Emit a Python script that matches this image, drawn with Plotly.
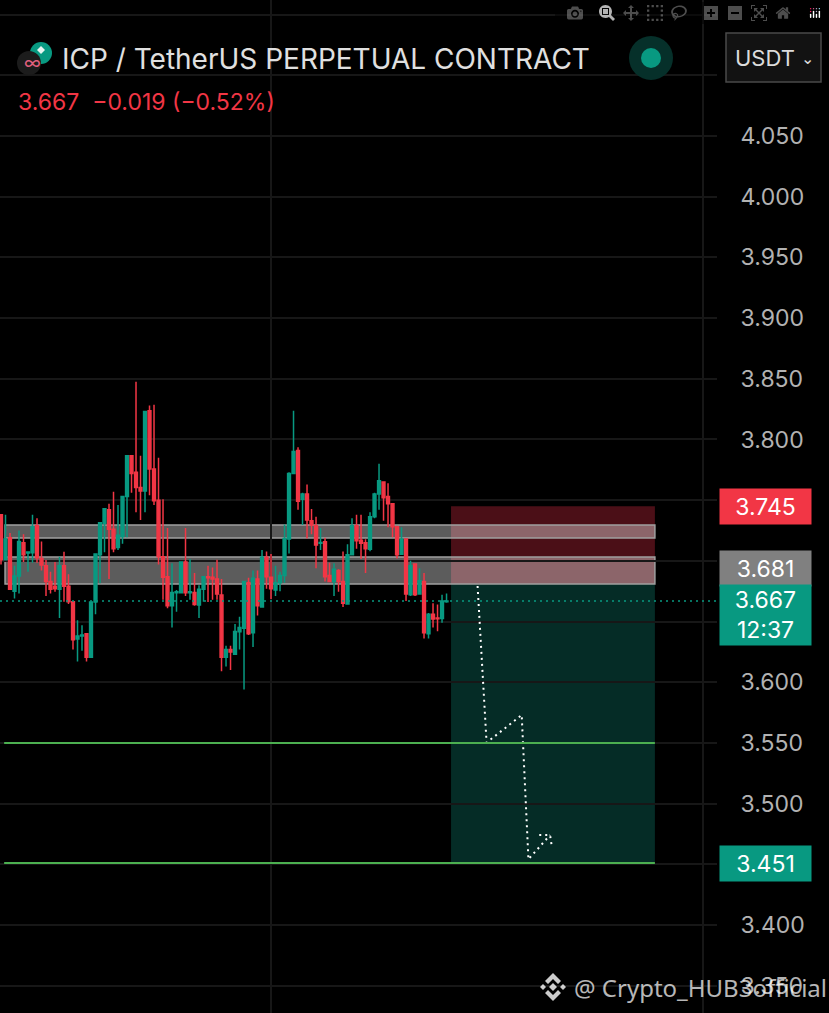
import plotly.graph_objects as go

# one entry per candle
opens = [3.738,3.701,3.719,3.675,3.6875,3.715,3.7064,3.7067,3.729,3.702,3.696,3.683,3.679,3.6765,3.696,3.679,3.6664,3.6356,3.638,3.64,
         3.6205,3.666,3.705,3.731,3.742,3.726,3.711,3.72,3.753,3.7866,3.773,3.7605,3.7575,3.8237,3.7756,3.75,3.7034,3.687,3.663,3.6738,
         3.6738,3.699,3.6738,3.674,3.6636,3.6765,3.687,3.6864,3.685,3.6718,3.6205,3.627,3.623,3.6415,3.6444,3.682,3.6408,3.685,3.662,3.703,
         3.6864,3.676,3.682,3.688,3.718,3.772,3.791,3.7507,3.755,3.733,3.729,3.7144,3.7158,3.688,3.683,3.692,3.683,3.6645,3.705,3.729,
         3.717,3.715,3.7095,3.7364,3.755,3.765,3.753,3.747,3.728,3.7054,3.718,3.672,3.6974,3.6727,3.683,3.64,3.656,3.653,3.6526,3.6664]
highs = [3.738,3.738,3.723,3.696,3.725,3.722,3.7073,3.738,3.735,3.716,3.7007,3.691,3.699,3.7034,3.7075,3.689,3.6664,3.651,3.647,3.64,
         3.63,3.6685,3.712,3.736,3.747,3.757,3.746,3.752,3.7666,3.7866,3.8476,3.7866,3.783,3.828,3.8286,3.785,3.7507,3.727,3.698,3.676,
         3.695,3.727,3.7015,3.69,3.68,3.6815,3.696,3.6946,3.701,3.685,3.6718,3.63,3.63,3.648,3.654,3.683,3.686,3.692,3.692,3.709,
         3.7076,3.7056,3.696,3.691,3.73,3.773,3.8237,3.7935,3.756,3.763,3.7427,3.7364,3.727,3.719,3.6985,3.698,3.693,3.7076,3.7136,3.735,
         3.738,3.738,3.7177,3.74,3.756,3.78,3.765,3.764,3.747,3.729,3.7276,3.7185,3.70,3.698,3.694,3.69,3.657,3.665,3.664,3.672,3.673]
lows = [3.697,3.701,3.676,3.669,3.673,3.699,3.691,3.6985,3.6985,3.692,3.671,3.673,3.6746,3.653,3.6664,3.6644,3.627,3.617,3.626,3.617,
        3.6205,3.656,3.6815,3.707,3.685,3.707,3.709,3.714,3.7194,3.756,3.74,3.7336,3.74,3.754,3.746,3.697,3.668,3.661,3.645,3.658,
        3.673,3.671,3.668,3.663,3.653,3.6664,3.666,3.668,3.668,3.609,3.613,3.61,3.623,3.627,3.594,3.639,3.629,3.655,3.662,3.677,
        3.6686,3.671,3.675,3.682,3.706,3.7715,3.742,3.7295,3.7185,3.722,3.694,3.709,3.683,3.683,3.671,3.6746,3.662,3.6645,3.705,3.71,
        3.7015,3.69,3.708,3.735,3.742,3.733,3.7276,3.7194,3.702,3.705,3.667,3.671,3.671,3.6727,3.636,3.636,3.645,3.642,3.649,3.6655]
closes = [3.701,3.718,3.6765,3.6875,3.716,3.705,3.7073,3.728,3.7026,3.6966,3.683,3.6765,3.677,3.696,3.679,3.6664,3.635,3.638,3.639,3.6205,
          3.666,3.7056,3.7314,3.743,3.726,3.71,3.721,3.753,3.7866,3.772,3.7605,3.7575,3.823,3.7756,3.7496,3.7034,3.6864,3.663,3.674,3.6746,
          3.699,3.6738,3.6746,3.664,3.6765,3.687,3.686,3.685,3.6727,3.6205,3.627,3.625,3.6417,3.645,3.683,3.64,3.6856,3.663,3.703,3.687,
          3.677,3.682,3.688,3.7185,3.772,3.79,3.749,3.755,3.7336,3.7295,3.713,3.7152,3.687,3.683,3.693,3.683,3.665,3.705,3.729,3.7166,
          3.7144,3.71,3.7364,3.755,3.766,3.752,3.747,3.728,3.705,3.7177,3.6727,3.696,3.672,3.6837,3.6408,3.656,3.652,3.6524,3.667,3.667]
# the highs list carries one extra entry from reading, keep it in step with opens
highs = highs[:50] + highs[51:]
candle_x = list(range(len(opens)))

price_ticks = [3.35,3.4,3.45,3.5,3.55,3.6,3.65,3.7,3.75,3.8,3.85,3.9,3.95,4.0,4.05,4.1,4.15]
price_labels = ["3.350","3.400","","3.500","3.550","3.600","","","","3.800","3.850","3.900","3.950","4.000","4.050","",""]
time_grid = [60,156]

stop_price = 3.745
entry_price = 3.681
last_price = 3.667
target_price = 3.451
target_one = 3.55
zone_upper = [3.7188,3.7295]
zone_lower = [3.681,3.7032]
box_x = [100,145.3]

arrow_x = [105.9,107.9,115.7,117.2,122]
arrow_y = [3.6793,3.5502,3.573,3.4541,3.4741]
head_x = [119.6,122,122.4]
head_y = [3.4741,3.4741,3.4645]

UP = "#089981"
DOWN = "#f23645"
GRID = "#171717"
W = 829
H = 1013
PLOT_W = 717


def px(p):
    return p/PLOT_W


def py(p):
    return 1-p/H


def circle(cx, cy, r, fill):
    return dict(type="circle", xref="paper", yref="paper", x0=px(cx-r), x1=px(cx+r), y0=py(cy+r), y1=py(cy-r),
                fillcolor=fill, line_width=0, layer="above")


def poly(points, fill):
    path = "M " + " L ".join(f"{px(a)},{py(b)}" for a, b in points) + " Z"
    return dict(type="path", xref="paper", yref="paper", path=path, fillcolor=fill, line_width=0, layer="above")


def diamond(cx, cy, r, fill):
    return poly([(cx-r,cy),(cx,cy-r),(cx+r,cy),(cx,cy+r)], fill)


fig = go.Figure()
fig.add_trace(go.Candlestick(x=candle_x, open=opens, high=highs, low=lows, close=closes,
                             increasing_line_color=UP, increasing_fillcolor=UP,
                             decreasing_line_color=DOWN, decreasing_fillcolor=DOWN,
                             line_width=1.5, whiskerwidth=0, showlegend=False))
fig.add_trace(go.Scatter(x=arrow_x, y=arrow_y, mode="lines", line=dict(color="white", width=2, dash="2px,4px"),
                         showlegend=False))
fig.add_trace(go.Scatter(x=head_x, y=head_y, mode="lines", line=dict(color="white", width=2, dash="2px,4px"),
                         showlegend=False))

shapes = [
    dict(type="rect", x0=box_x[0], x1=box_x[1], y0=entry_price, y1=stop_price, fillcolor="#4b0f17",
         line_width=0, layer="below"),
    dict(type="rect", x0=box_x[0], x1=box_x[1], y0=target_price, y1=entry_price, fillcolor="#052c26",
         line_width=0, layer="below"),
    dict(type="rect", x0=0.9, x1=box_x[1], y0=zone_upper[0], y1=zone_upper[1], fillcolor="rgba(255,255,255,0.36)",
         line=dict(color="#a0a0a0", width=1.5), layer="below"),
    dict(type="rect", x0=0.9, x1=box_x[1], y0=zone_lower[0], y1=zone_lower[1], fillcolor="rgba(255,255,255,0.36)",
         line=dict(color="#a0a0a0", width=1.5), layer="below"),
    dict(type="line", x0=0.7, x1=box_x[1], y0=target_one, y1=target_one, line=dict(color="#4caf50", width=2)),
    dict(type="line", x0=0.7, x1=box_x[1], y0=target_price, y1=target_price, line=dict(color="#4caf50", width=2)),
    dict(type="line", xref="paper", x0=0, x1=1, y0=last_price, y1=last_price,
         line=dict(color=UP, width=1.5, dash="2px,4px")),
    # header icons
    circle(41, 53, 11, "#089981"),
    circle(29, 63, 12, "#1c1c1c"),
    diamond(41, 50, 4, "#e8f5f2"),
    circle(651, 58, 22, "#06302a"),
    circle(651, 58, 10, "#089981"),
    # USDT button
    dict(type="rect", xref="paper", yref="paper", x0=px(726), x1=px(821), y0=py(82), y1=py(33),
         fillcolor="#121212", line=dict(color="#4a4a4a", width=1.5), layer="above"),
    # watermark logo
    diamond(553, 987, 4, "rgba(255,255,255,0.8)"),
    diamond(543, 987, 3, "rgba(255,255,255,0.8)"),
    diamond(563, 987, 3, "rgba(255,255,255,0.8)"),
    poly([(553,973),(561,981),(558,984),(553,979),(548,984),(545,981)], "rgba(255,255,255,0.8)"),
    poly([(553,1001),(561,993),(558,990),(553,995),(548,990),(545,993)], "rgba(255,255,255,0.8)"),
]


def tag(value, text, color, yshift=0, height=33):
    return dict(x=1, xref="paper", y=value, yref="y", xanchor="left", yanchor="middle", xshift=2, yshift=yshift,
                text=text, showarrow=False, bgcolor=color, width=89, height=height, align="center",
                font=dict(family="Inter", size=23, color="white"))


def label(x, y, text, size, color, family="Inter"):
    return dict(x=px(x), xref="paper", y=py(y), yref="paper", xanchor="left", yanchor="middle", text=text,
                showarrow=False, font=dict(family=family, size=size, color=color))


annotations = [
    tag(stop_price, "3.745", DOWN),
    tag(entry_price, "3.681", "#808080", yshift=15),
    tag(last_price, "3.667<br>12:37", UP, yshift=-14, height=58),
    tag(target_price, "3.451", UP),
    label(60, 59, "ICP / TetherUS PERPETUAL CONTRACT", 28, "#e0e0e0"),
    label(16, 102, "3.667&#160;&#160;−0.019 (−0.52%)", 23, DOWN),
    label(22, 63, "∞", 18, "#e0607e"),
    label(733, 58, "USDT", 22, "#dcdcdc"),
    label(799, 58, "⌄", 16, "#dcdcdc", "DejaVu Sans"),
    label(572, 987, "@ Crypto_HUB3official", 24, "rgba(255,255,255,0.72)", "Noto Sans"),
]

fig.update_layout(
    width=W, height=H, margin=dict(l=0, r=W-PLOT_W, t=0, b=0),
    paper_bgcolor="black", plot_bgcolor="black", showlegend=False, boxgap=0.1,
    shapes=shapes, annotations=annotations,
)
fig.update_xaxes(range=[-0.222,159.1], tickvals=time_grid, showticklabels=False, showgrid=True, gridcolor=GRID,
                 gridwidth=1.5, zeroline=False, rangeslider_visible=False, ticks="")
fig.update_yaxes(range=[3.3275,4.16205], side="right", tickvals=price_ticks, ticktext=price_labels, showgrid=True,
                 gridcolor=GRID, gridwidth=1.5, zeroline=False, ticks="outside", ticklen=18, tickcolor="rgba(0,0,0,0)",
                 tickfont=dict(family="Inter", size=23, color="#b2b2b2"))

fig.write_html("out.html", post_script="document.body.style.margin='0';document.body.style.overflow='hidden';")
